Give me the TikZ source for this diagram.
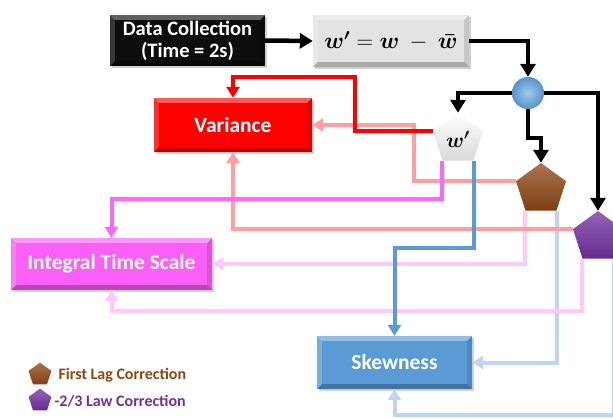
\RequirePackage{fix-cm}
\documentclass[tikz,border=0pt]{standalone}
\usepackage{amsmath}
\usepackage{fontspec}
\setmainfont{Carlito}
\usetikzlibrary{arrows.meta,shapes.geometric,shadows,shadings}
\definecolor{cred}{RGB}{255,0,0}
\definecolor{csalmon}{RGB}{255,160,160}
\definecolor{cmagline}{RGB}{255,102,255}
\definecolor{cmagbox}{RGB}{250,96,245}
\definecolor{clpink}{RGB}{255,200,255}
\definecolor{cblue}{RGB}{91,155,213}
\definecolor{clblue}{RGB}{190,215,238}
\definecolor{cbrown}{RGB}{140,70,20}
\definecolor{cpurple}{RGB}{112,48,160}
\newcommand\bevelit[1]{%
 \fill[white,opacity=.35] (#1.north west) -- (#1.north east) -- ([shift={(-5,5)}]#1.north east) -- ([shift={(5,5)}]#1.north west) -- cycle;
 \fill[white,opacity=.18] (#1.north west) -- ([shift={(5,5)}]#1.north west) -- ([shift={(5,-5)}]#1.south west) -- (#1.south west) -- cycle;
 \fill[black,opacity=.12] (#1.north east) -- ([shift={(-5,5)}]#1.north east) -- ([shift={(-5,-5)}]#1.south east) -- (#1.south east) -- cycle;
 \fill[black,opacity=.25] (#1.south west) -- (#1.south east) -- ([shift={(-5,-5)}]#1.south east) -- ([shift={(5,-5)}]#1.south west) -- cycle;}
\newcommand\wprime{\boldsymbol{w^{\prime}}}
\begin{document}
\begin{tikzpicture}[x=1pt,y=-1pt,
  box/.style={rectangle, inner sep=0pt, align=center, text=white,
    font=\fontsize{21.5}{22}\selectfont\bfseries,
    drop shadow={shadow xshift=1.5pt,shadow yshift=-1.5pt,opacity=0.35}},
  pent/.style={regular polygon, regular polygon sides=5, minimum size=52.6pt, inner sep=0pt},
  blk/.style={line width=4.5pt, draw=black, -{Triangle[length=13pt,width=15pt]}},
  col/.style={line width=4pt, draw=#1, -{Triangle[length=11pt,width=13pt]}},
  legtext/.style={anchor=west, font=\fontsize{16}{18}\selectfont\bfseries}
]
\useasboundingbox (0,0) rectangle (613,418);
\fill[white] (0,0) rectangle (613,418);

% boxes
\node[box, fill=black!95, minimum width=155pt, minimum height=51pt, font=\fontsize{20.5}{22}\selectfont\bfseries] (data) at (187.5,40.5) {Data Collection\\(Time = 2s)};
\node[box, fill=gray!22, text=black, minimum width=156pt, minimum height=52pt, font=\fontsize{23}{26}\selectfont] (wbox) at (391,41) {$\wprime = \boldsymbol{w}\ -\ \boldsymbol{\bar{w}}$};
\node[box, fill=cred, minimum width=158pt, minimum height=54pt] (var) at (233,125) {Variance};
\node[box, fill=cmagbox, minimum width=201pt, minimum height=52pt] (its) at (111.5,264) {Integral Time Scale};
\node[box, fill=cblue, minimum width=155pt, minimum height=53pt] (skew) at (394.5,362.5) {Skewness};
\bevelit{data}\bevelit{wbox}\bevelit{var}\bevelit{its}\bevelit{skew}

% junction and pentagons
\node[circle, minimum size=32pt, inner sep=0pt, inner color=cblue!55, outer color=cblue!95!black] (circ) at (528,93) {};
\node[pent, top color=white, bottom color=gray!30, font=\fontsize{21}{23}\selectfont] (wp) at (458,139.3) {$\wprime$};
\node[pent, top color=cbrown!75, bottom color=cbrown!90!black] (brown) at (541,189.3) {};
\node[pent, top color=cpurple!75, bottom color=cpurple!90!black] (purple) at (598,237.3) {};

% helper coordinates
\coordinate (bend1) at (0,138);
\coordinate (r1) at (355,77);
\coordinate (s1) at (414,0);
\coordinate (m1) at (0,199);
\coordinate (b1) at (0,248);
\coordinate (p2) at (0,311);
\coordinate (lb2) at (0,415);

% light connectors
\draw[col=clblue] (purple.corner 4) |- (skew.south |- lb2) -- (skew.south);
\draw[col=clblue] (brown.corner 4) |- (skew.east);
\draw[col=clpink] (purple.corner 3) |- (its.south |- p2) -- (its.south);
\draw[col=clpink] (brown.corner 3) |- (its.east);
\draw[col=csalmon] (purple.corner 2) -| (var.south);
\draw[col=csalmon] (brown.corner 2) -| (var.east -| s1) -- (var.east);

% strong connectors
\draw[col=cblue] (wp.corner 4) |- (skew.north |- b1) -- (skew.north);
\draw[col=cmagline] (wp.corner 3) |- (its.north |- m1) -- (its.north);
\draw[col=cred] (wp.corner 2) -| (r1) -| (var.north);

% black connectors
\draw[blk] (data.east) -- (wbox.west);
\draw[blk] (wbox.east) -| (circ.north);
\draw[blk] (circ.west) -| (wp.corner 1);
\draw[blk] (circ.east) -| (purple.corner 1);
\draw[blk] (circ.south) -- (circ.south |- bend1) -| (brown.corner 1);

% legend
\node[pent, minimum size=24pt, top color=cbrown!75, bottom color=cbrown!90!black] (lg1) at (40,374.6) {};
\node[pent, minimum size=24pt, top color=cpurple!75, bottom color=cpurple!90!black] (lg2) at (40,400.6) {};
\node[legtext, text=cbrown] (lt1) at (55,375) {First Lag Correction};
\node[legtext, text=cpurple] (lt2) at (51,401) {-2/3 Law Correction};
\end{tikzpicture}
\end{document}
